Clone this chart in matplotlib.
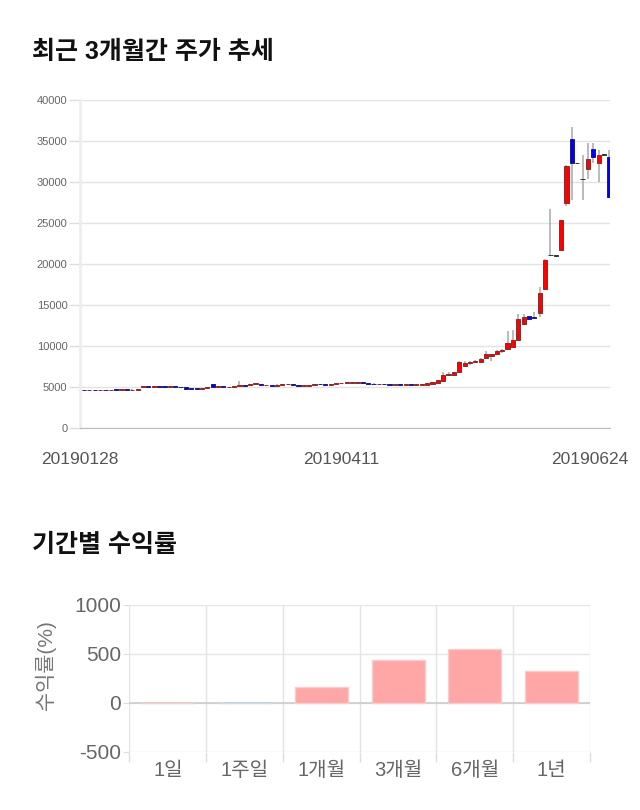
import matplotlib
matplotlib.use("Agg")

import matplotlib.pyplot as plt
import matplotlib.transforms as mtransforms
import numpy as np

plt.rcParams["font.family"] = ["Liberation Sans", "Noto Sans CJK KR", "DejaVu Sans"]

# daily candles, 2019-01-28 .. 2019-06-24
OPEN = [
    4620, 4600, 4610, 4600, 4620, 4600, 4630, 4620, 4640, 4600,
    4690, 4980, 5040, 5010, 5030, 5000, 4990, 5010, 4990, 4960,
    4800, 4880, 4760, 4840, 5370, 5040, 5100, 4950, 4960, 5150,
    5160, 5200, 5370, 5370, 5200, 5250, 5150, 5300, 5320, 5370,
    5200, 5130, 5150, 5200, 5350, 5370, 5250, 5330, 5450, 5480,
    5500, 5510, 5530, 5450, 5420, 5330, 5340, 5300, 5280, 5270,
    5250, 5260, 5250, 5280, 5290, 5370, 5450, 5770, 6500, 6500,
    6870, 7600, 7900, 8050, 8010, 8570, 8780, 9020, 9430, 9590,
    9880, 10730, 12680, 13620, 13500, 13980, 16950, 21050, 21000, 21670,
    27480, 35200, 32270, 30320, 31630, 34020, 32280, 33290, 33000,
]
CLOSE = [
    4600, 4610, 4600, 4620, 4600, 4630, 4620, 4640, 4610, 4690,
    4720, 5040, 5010, 5030, 5000, 4990, 5010, 4990, 4960, 4800,
    4780, 4760, 4790, 5040, 5040, 5060, 4950, 4980, 5150, 5160,
    5150, 5370, 5380, 5200, 5220, 5170, 5300, 5310, 5330, 5200,
    5130, 5150, 5160, 5350, 5330, 5250, 5300, 5450, 5460, 5500,
    5510, 5530, 5520, 5370, 5330, 5340, 5330, 5280, 5290, 5250,
    5260, 5250, 5280, 5300, 5490, 5610, 5850, 6460, 6540, 6830,
    8010, 7960, 8050, 8170, 8410, 9020, 9020, 9430, 9510, 10400,
    10730, 13290, 13500, 13290, 13400, 16460, 20530, 21050, 21000, 25370,
    32000, 32280, 32270, 30320, 32770, 33090, 33250, 33290, 28200,
]
HIGH = [
    4640, 4630, 4630, 4640, 4640, 4650, 4650, 4660, 4660, 4710,
    4760, 5080, 5060, 5050, 5050, 5020, 5030, 5030, 5010, 4980,
    4820, 4900, 4810, 5060, 5400, 5090, 5120, 5000, 5170, 5730,
    5180, 5400, 5400, 5390, 5240, 5270, 5320, 5330, 5350, 5390,
    5220, 5170, 5180, 5370, 5370, 5390, 5320, 5470, 5480, 5520,
    5530, 5560, 5550, 5470, 5440, 5360, 5360, 5320, 5310, 5290,
    5280, 5280, 5300, 5320, 5510, 5640, 5900, 6790, 6830, 6860,
    8130, 8130, 8130, 8290, 8540, 9430, 9050, 9460, 9630, 11830,
    11950, 13900, 13900, 13700, 14100, 17240, 20600, 26700, 21050, 25400,
    32050, 36750, 32300, 33290, 34700, 34800, 33900, 33350, 33900,
]
LOW = [
    4590, 4590, 4580, 4590, 4590, 4590, 4600, 4600, 4600, 4590,
    4680, 4950, 4990, 4990, 4980, 4970, 4970, 4970, 4940, 4780,
    4760, 4740, 4740, 4820, 5020, 5020, 4930, 4930, 4940, 5130,
    5130, 5180, 5350, 5180, 5180, 5150, 5130, 5280, 5300, 5180,
    5110, 5110, 5130, 5180, 5310, 5230, 5230, 5310, 5430, 5460,
    5480, 5490, 5500, 5350, 5310, 5310, 5310, 5260, 5260, 5230,
    5230, 5230, 5230, 5260, 5270, 5350, 5430, 5750, 6340, 6300,
    6850, 7400, 7650, 7900, 7990, 8540, 8130, 9000, 9100, 9570,
    9860, 10700, 12600, 13200, 13350, 13500, 16900, 20950, 20950, 21600,
    27070, 27800, 32250, 27800, 30320, 32280, 30040, 33250, 28200,
]
DATE_TICKS = [0, 48, 98]
DATE_LABELS = ["20190128", "20190411", "20190624"]
PRICE_TICKS = [0, 5000, 10000, 15000, 20000, 25000, 30000, 35000, 40000]

PERIODS = ["1일", "1주일", "1개월", "3개월", "6개월", "1년"]
RETURNS = [0, -3, 166, 434, 550, 326]
RETURN_TICKS = [-500, 0, 500, 1000]


def plot_candles(ax):
    o = np.array(OPEN)
    c = np.array(CLOSE)
    x = np.arange(len(o))
    ax.vlines(x, LOW, HIGH, color="#a8a8a8", linewidth=1.1, zorder=2)

    body_color = np.where(c > o, "#ff0000", np.where(c < o, "#0000ff", "#333333"))
    edge_color = np.where(c > o, "#8a2a2a", np.where(c < o, "#1a1a80", "#333333"))
    bottom = np.minimum(o, c)
    height = np.maximum(np.abs(c - o), 90)
    ax.bar(x, height, bottom=bottom, width=0.78, color=body_color,
           edgecolor=edge_color, linewidth=0.7, zorder=3)

    ax.set_xlim(-0.75, 98.1)
    ax.set_ylim(0, 40000)
    ax.set_yticks(PRICE_TICKS)
    ax.set_yticklabels([str(v) for v in PRICE_TICKS])
    ax.tick_params(axis="y", length=8, width=1, color="#dddddd", pad=1,
                   labelsize=8, labelcolor="#666666")
    ax.set_xticks(DATE_TICKS)
    ax.set_xticklabels(DATE_LABELS)
    ax.tick_params(axis="x", length=0, pad=17, labelsize=12.5, labelcolor="#555555")
    ax.grid(axis="y", color="#e3e3e3", linewidth=1)
    ax.set_axisbelow(True)
    for side in ["top", "right"]:
        ax.spines[side].set_visible(False)
    ax.spines["left"].set_color("#eeeeee")
    ax.spines["left"].set_linewidth(2)
    ax.spines["bottom"].set_color("#bbbbbb")

    labels = ax.get_xticklabels()
    fig = ax.figure
    labels[0].set_transform(labels[0].get_transform()
                            + mtransforms.ScaledTranslation(-0.04, 0, fig.dpi_scale_trans))
    labels[-1].set_transform(labels[-1].get_transform()
                             + mtransforms.ScaledTranslation(-0.195, 0, fig.dpi_scale_trans))


def plot_returns(ax):
    x = np.arange(len(PERIODS))
    vals = np.array(RETURNS)
    colors = np.where(vals >= 0, "#ffa6a6", "#a9c8ee")
    edges = np.where(vals >= 0, "#f6cccc", "#c6dcf3")
    ax.bar(x, vals, width=0.69, color=colors, edgecolor=edges, linewidth=1, zorder=3)

    ax.set_xlim(-0.5, len(PERIODS) - 0.5)
    ax.set_ylim(-500, 1000)
    ax.set_yticks(RETURN_TICKS)
    ax.set_yticklabels([str(v) for v in RETURN_TICKS])
    ax.tick_params(axis="y", length=4, color="#dddddd", pad=2,
                   labelsize=15, labelcolor="#666666")
    ax.set_xticks(x)
    ax.set_xticklabels(PERIODS)
    ax.tick_params(axis="x", which="major", length=0, pad=7,
                   labelsize=14.5, labelcolor="#666666")
    ax.set_xticks(np.arange(len(PERIODS) + 1) - 0.5, minor=True)
    ax.tick_params(axis="x", which="minor", length=7, color="#dddddd", width=1)
    ax.grid(axis="x", which="minor", color="#e3e3e3", linewidth=1)
    ax.grid(axis="y", color="#e6e6e6", linewidth=1)
    ax.axhline(0, color="#cccccc", linewidth=1.2, zorder=2)
    ax.set_axisbelow(True)
    for side in ["top", "right", "left", "bottom"]:
        ax.spines[side].set_visible(False)


fig = plt.figure(figsize=(6.4, 8.1), dpi=100)

fig.text(0.05, 0.9358, "최근 3개월간 주가 추세", fontsize=18, fontweight="bold",
         va="center", ha="left", color="#111111")
ax1 = fig.add_axes([0.125, 0.4716, 0.828, 0.405])
plot_candles(ax1)

fig.text(0.05, 0.327, "기간별 수익률", fontsize=18, fontweight="bold",
         va="center", ha="left", color="#111111")
ax2 = fig.add_axes([0.2023, 0.0720, 0.7195, 0.1811])
plot_returns(ax2)
fig.text(0.0703, 0.179, "수익률(%)", rotation=90, fontsize=15, color="#777777",
         va="center", ha="center")

fig.savefig("out.png", dpi=100)
